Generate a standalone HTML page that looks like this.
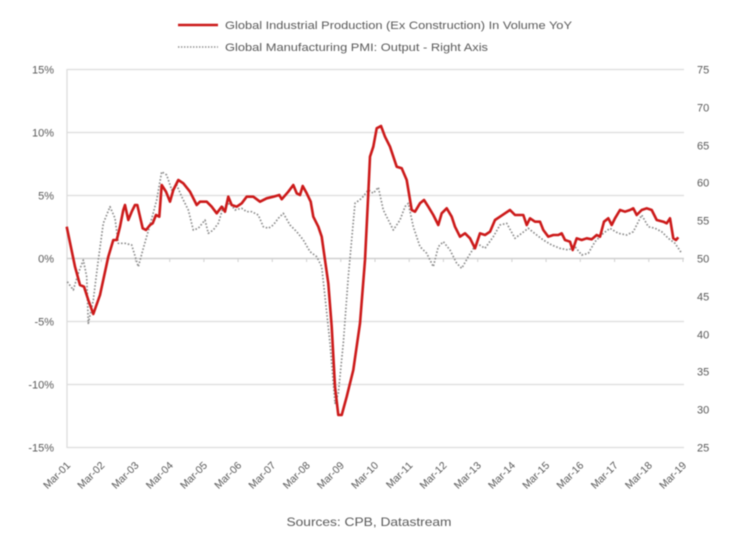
<!DOCTYPE html>
<html><head><meta charset="utf-8"><style>
html,body{margin:0;padding:0;background:#fff;}
svg{display:block;filter:blur(0.45px);}
text{font-family:"Liberation Sans",sans-serif;fill:#595959;}
</style></head><body>
<svg width="750" height="538" viewBox="0 0 750 538" xmlns="http://www.w3.org/2000/svg">
<rect width="750" height="538" fill="#fff"/>
<!-- gridlines -->
<g stroke="#dcdcdc" stroke-width="1.3">
<line x1="67" y1="69.5" x2="684" y2="69.5"/>
<line x1="67" y1="132.5" x2="684" y2="132.5"/>
<line x1="67" y1="195.5" x2="684" y2="195.5"/>
<line x1="67" y1="321.5" x2="684" y2="321.5"/>
<line x1="67" y1="384.5" x2="684" y2="384.5"/>
<line x1="67" y1="447.5" x2="684" y2="447.5"/>
<line x1="67" y1="69" x2="67" y2="448"/>
</g>
<line x1="67" y1="258.5" x2="684" y2="258.5" stroke="#cfcfcf" stroke-width="1.5"/>
<g stroke="#cfcfcf" stroke-width="1">
<line x1="101.2" y1="258" x2="101.2" y2="262"/><line x1="135.4" y1="258" x2="135.4" y2="262"/>
<line x1="169.7" y1="258" x2="169.7" y2="262"/><line x1="203.9" y1="258" x2="203.9" y2="262"/>
<line x1="238.1" y1="258" x2="238.1" y2="262"/><line x1="272.3" y1="258" x2="272.3" y2="262"/>
<line x1="306.6" y1="258" x2="306.6" y2="262"/><line x1="340.8" y1="258" x2="340.8" y2="262"/>
<line x1="375" y1="258" x2="375" y2="262"/><line x1="409.2" y1="258" x2="409.2" y2="262"/>
<line x1="443.4" y1="258" x2="443.4" y2="262"/><line x1="477.7" y1="258" x2="477.7" y2="262"/>
<line x1="511.9" y1="258" x2="511.9" y2="262"/><line x1="546.1" y1="258" x2="546.1" y2="262"/>
<line x1="580.3" y1="258" x2="580.3" y2="262"/><line x1="614.6" y1="258" x2="614.6" y2="262"/>
<line x1="648.8" y1="258" x2="648.8" y2="262"/><line x1="683" y1="258" x2="683" y2="262"/>
</g>

<!-- gray dotted PMI -->
<polyline fill="none" stroke="#8e8e8e" stroke-width="1.7" stroke-dasharray="1.6 1.8" stroke-linejoin="round" points="
67.3,281.7 73.3,290 78.3,273.3 83.3,260 86.7,276.7 88.3,323.3 93.3,300 98.3,260 103.3,223.3 110,206.7 115,218.3 118.3,243.3 125,243.3 131.7,245 138.3,266.7 143.3,248.3 150,225 156.7,200 161.7,171.7 166.7,175 171.7,190 176.7,185 181.7,196.7 188.3,210 193.3,230 198.3,228.3 205,220 208.3,233.3 213.3,230 218.3,223.3 223.3,206.7 230,203.3 235,210 241.7,208.3 246.7,211.7 251.7,211.7 258.3,215 263.3,226.7 268.3,228.3 273.3,225 278.3,218.3
283.3,213.3 290,225 296.7,231.7 303.3,240 310,251.7 316.7,256.7 321.7,266.7 325,296.7 330,343.3 335,403.3 338.3,393.3 343.3,343.3 348.3,276.7 355,203.3 361.7,198.3 368.3,190 373.3,193.3 378.3,187.3 383.3,210 388.3,220 393.3,230 400,220 405,206.7 408.3,203.3 413.3,226.7 420,246.7 426.7,253.3 433.3,266.7 438.3,246.7 443.3,241.7 450,250 456.7,263.3 461.7,268.3 468.3,256.7 476.7,243.3 485,248.3 493.3,236.7 500,225 506.7,223.3 515,238.3 521.7,233.3 528.3,228.3 536.7,235 543.3,240 551.7,245 560,248.3 568.3,250 575,246.7 581.7,255 588.3,253.3 595,241.7 603.3,233.3 610,228.3 618.3,233.3 626.7,235 633.3,231.7 641.7,215 648.3,226.7 655,228.3 661.7,231.7 668.3,238.3 675,243.3 681.7,253.3"/>

<!-- red IP -->
<polyline fill="none" stroke="#cc1a1a" stroke-width="2.6" stroke-linejoin="round" points="
66.7,226.7 75,266.7 80,285 84,286.7 88.3,300 93.3,314 100,295 108.3,256.7 113.3,240 116.7,240 120,226.7 123.3,210 125,205 128.3,220 131.7,211.7 135,205 137.3,205 142.7,228.3 146,230 150,225 152.7,223.3 156,215 159.3,216.7 161.7,185 166,191.7 170,201.7 173.3,190 178.3,180 183.3,183.3 190,191.7 196.7,205 200,201.7 206.7,201.7 211.7,206.7 216.7,213.3 221.7,206.7 225,211.7 228.3,196.7 231.7,205 236.7,206.7 241.7,203.3 246.7,196.7 253.3,196.7 260,201.7 266.7,198.3 273.3,196.7 279.3,195
281.7,199.3 288.3,191.7 293.3,185 296.7,193.3 300,195 302.7,186 306.7,193.3 310.7,201.7 313.3,216.7 318.3,226.7 321.7,236.7 325,260 328.3,283.3 331.7,326.7 335,386.7 338.3,415 341.7,415 346.7,396.7 353.3,370 360,323.3 365,260 368.3,193.3 370,156.7 373.3,146.7 376.7,128.3 381,126 385,136.7 390,146.7 396.7,166.7 401.7,168.3 406.7,180 411.7,210 415,211.7 420,203.3 424,200 428.3,206.7 433.3,215 438.3,225 441.7,213.3 446.7,208.3 451.7,216.7 455,226.7 460,236.7 465,233.3 470,238.3 475,248.3 480,233.3 485,235 490,231.7 495,220 500,216.7 505,213.3 510,210 515,215 523.3,215 526.7,225 530,218.3 535,221.7 540,221.7 543.3,230 548.3,236.7 553.3,235 558.3,235 561.7,233.3 565,240 570,241.7 572.7,250 576.7,238.3 581.7,240 586.7,238.3 591.7,239.3 596.7,235 600,236.7 604,221.7 608.3,218.3 611.7,225 615,218.3 620,210 625,211.7 630,210 633.3,208.3 636.7,215 641.7,210 646.7,208.3 651.7,210 656.7,220 663.3,221.7 666.7,223.3 670,218.3 673.3,238.3 676,240 678.3,237.3"/>

<!-- left axis labels -->
<g font-size="11" text-anchor="end">
<text x="54" y="73.5">15%</text>
<text x="54" y="136.5">10%</text>
<text x="54" y="199.5">5%</text>
<text x="54" y="262.5">0%</text>
<text x="54" y="325.5">-5%</text>
<text x="54" y="388.5">-10%</text>
<text x="54" y="451.5">-15%</text>
</g>
<!-- right axis labels -->
<g font-size="11">
<text x="697" y="73.5">75</text>
<text x="697" y="111.5">70</text>
<text x="697" y="149.5">65</text>
<text x="697" y="186.5">60</text>
<text x="697" y="224.5">55</text>
<text x="697" y="262.5">50</text>
<text x="697" y="300.5">45</text>
<text x="697" y="338.5">40</text>
<text x="697" y="375.5">35</text>
<text x="697" y="413.5">30</text>
<text x="697" y="451.5">25</text>
</g>
<!-- x labels -->
<g font-size="10.5" text-anchor="end">
<text transform="translate(71,466) rotate(-45)">Mar-01</text>
<text transform="translate(105.2,466) rotate(-45)">Mar-02</text>
<text transform="translate(139.4,466) rotate(-45)">Mar-03</text>
<text transform="translate(173.7,466) rotate(-45)">Mar-04</text>
<text transform="translate(207.9,466) rotate(-45)">Mar-05</text>
<text transform="translate(242.1,466) rotate(-45)">Mar-06</text>
<text transform="translate(276.3,466) rotate(-45)">Mar-07</text>
<text transform="translate(310.6,466) rotate(-45)">Mar-08</text>
<text transform="translate(344.8,466) rotate(-45)">Mar-09</text>
<text transform="translate(379,466) rotate(-45)">Mar-10</text>
<text transform="translate(413.2,466) rotate(-45)">Mar-11</text>
<text transform="translate(447.4,466) rotate(-45)">Mar-12</text>
<text transform="translate(481.7,466) rotate(-45)">Mar-13</text>
<text transform="translate(515.9,466) rotate(-45)">Mar-14</text>
<text transform="translate(550.1,466) rotate(-45)">Mar-15</text>
<text transform="translate(584.3,466) rotate(-45)">Mar-16</text>
<text transform="translate(618.6,466) rotate(-45)">Mar-17</text>
<text transform="translate(652.8,466) rotate(-45)">Mar-18</text>
<text transform="translate(687,466) rotate(-45)">Mar-19</text>
</g>

<!-- legend -->
<line x1="178" y1="25" x2="218" y2="25" stroke="#cc1a1a" stroke-width="2.6"/>
<text x="225" y="29" font-size="11" textLength="347" lengthAdjust="spacingAndGlyphs">Global Industrial Production (Ex Construction) In Volume YoY</text>
<line x1="178" y1="47" x2="218" y2="47" stroke="#8e8e8e" stroke-width="1.4" stroke-dasharray="1.4 1.6"/>
<text x="225" y="51" font-size="11" textLength="263" lengthAdjust="spacingAndGlyphs">Global Manufacturing PMI: Output - Right Axis</text>

<!-- source -->
<text x="369" y="526" font-size="12" text-anchor="middle" fill="#404040" textLength="165" lengthAdjust="spacingAndGlyphs">Sources: CPB, Datastream</text>
</svg>
</body></html>
